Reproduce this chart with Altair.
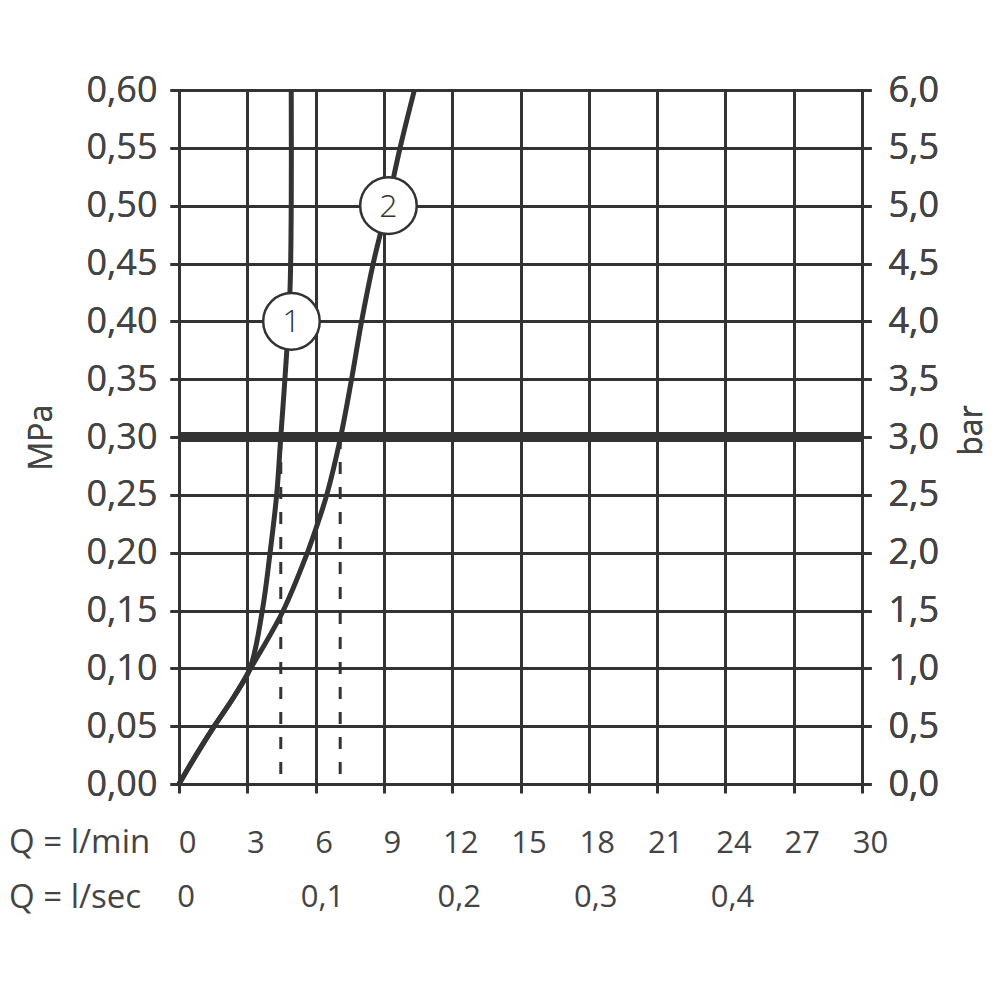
import altair as alt
import pandas as pd

# ---- data ----
q1 = [0, 0.75, 1.55, 2.4, 3.12, 3.66, 4.0, 4.29, 4.47, 4.72, 4.88, 4.93, 4.93]
p1 = [0, 0.025, 0.05, 0.075, 0.1, 0.15, 0.2, 0.25, 0.3, 0.37, 0.43, 0.5, 0.6]

q2 = [0, 0.75, 1.55, 2.4, 3.15, 4.58, 5.64, 6.0, 6.49, 7.10, 7.58, 8.02, 8.53, 9.15, 9.71, 10.34]
p2 = [0, 0.025, 0.05, 0.075, 0.1, 0.15, 0.2, 0.22, 0.25, 0.3, 0.35, 0.4, 0.45, 0.5, 0.55, 0.6]

marker_q = [4.94, 9.2]
marker_p = [0.40, 0.50]
marker_lbl = ["1", "2"]

dash_q = [4.47, 7.08]
dash_p = [0.3, 0.3]

limit_p = [0.3]

xticks = [0, 3, 6, 9, 12, 15, 18, 21, 24, 27, 30]
yticks = [0, 0.05, 0.1, 0.15, 0.2, 0.25, 0.3, 0.35, 0.4, 0.45, 0.5, 0.55, 0.6]
sec_q = [0, 6, 12, 18, 24]
sec_lbl = ["0", "0,1", "0,2", "0,3", "0,4"]
row_names = ["Q = l/min", "Q = l/sec"]

FONT = "Open Sans"
DARK = "#333333"
TXT = "#444444"

curves = pd.DataFrame(
    [{"q": q, "p": p, "c": "1", "i": i} for i, (q, p) in enumerate(zip(q1, p1))]
    + [{"q": q, "p": p, "c": "2", "i": i} for i, (q, p) in enumerate(zip(q2, p2))]
)
markers = pd.DataFrame({"q": marker_q, "p": marker_p, "lbl": marker_lbl})
dashes = pd.DataFrame({"q": dash_q, "p": dash_p})
limit = pd.DataFrame({"p": limit_p})
secs = pd.DataFrame({"q": sec_q, "lbl": sec_lbl})
rowlbl = pd.DataFrame({"lbl": row_names, "yy": [753, 808]})

xscale = alt.Scale(domain=[0, 30], nice=False, zero=False)
yscale = alt.Scale(domain=[0, 0.6], nice=False, zero=False)

x_axis = alt.Axis(
    values=xticks, grid=True, gridColor=DARK, gridWidth=3, gridOpacity=1,
    domain=False, ticks=True, tickSize=9, tickWidth=3, tickColor=DARK,
    labelFont=FONT, labelFontSize=31, labelColor=TXT, labelFontWeight=400,
    labelPadding=50, labelBaseline="middle", labelOffset=8, labelFlush=False,
    labelExpr="format(datum.value, 'd')", title=None,
)
y_left = alt.Axis(
    orient="left", values=yticks, grid=True, gridColor=DARK, gridWidth=3, gridOpacity=1,
    domain=False, ticks=True, tickSize=9, tickWidth=3, tickColor=DARK,
    labelFont=FONT, labelFontSize=36, labelColor=TXT, labelFontWeight=400,
    labelPadding=13, labelFlush=False,
    labelExpr="replace(format(datum.value, '.2f'), '.', ',')",
    title="MPa", titleFont=FONT, titleFontSize=32, titleFontWeight=400, titleColor=TXT,
    titleX=-128, titleY=347, titleAngle=270, titleBaseline="alphabetic", titleAlign="center",
)
y_right = alt.Axis(
    orient="right", values=yticks, grid=False,
    domain=False, ticks=True, tickSize=9, tickWidth=3, tickColor=DARK,
    labelFont=FONT, labelFontSize=36, labelColor=TXT, labelFontWeight=400,
    labelPadding=17, labelFlush=False,
    labelExpr="replace(format(datum.value * 10, '.1f'), '.', ',')",
    title="bar", titleFont=FONT, titleFontSize=32, titleFontWeight=400, titleColor=TXT,
    titleX=119, titleY=340, titleAngle=270, titleBaseline="alphabetic", titleAlign="center",
)

X = alt.X("q:Q", scale=xscale, axis=x_axis)

limit_rule = alt.Chart(limit).mark_rule(color=DARK, strokeWidth=10).encode(
    y=alt.Y("p:Q", scale=yscale, axis=y_left),
    x=alt.value(0), x2=alt.value(683),
)

dash_rules = alt.Chart(dashes).mark_rule(color=DARK, strokeWidth=3, strokeDash=[12, 13]).encode(
    x=X,
    y=alt.Y("p:Q", scale=yscale, axis=y_left),
    y2=alt.value(694),
)

lines = alt.Chart(curves).mark_line(color=DARK, strokeWidth=5, interpolate="catmull-rom").encode(
    x=X,
    y=alt.Y("p:Q", scale=yscale, axis=y_right),
    detail="c:N",
    order="i:Q",
)

circles = alt.Chart(markers).mark_point(
    shape="circle", filled=True, fill="white", stroke=DARK, strokeWidth=2.5, size=3200, opacity=1
).encode(
    x=X,
    y=alt.Y("p:Q", scale=yscale, axis=y_right),
)

circle_txt = alt.Chart(markers).mark_text(
    font=FONT, fontSize=32, fontWeight=300, color=DARK, baseline="middle", align="center", dy=1
).encode(
    x=X,
    y=alt.Y("p:Q", scale=yscale, axis=y_right),
    text="lbl:N",
)

sec_txt = alt.Chart(secs).mark_text(
    font=FONT, fontSize=31, fontWeight=400, color=TXT, baseline="middle", align="center", dx=7
).encode(
    x=X,
    y=alt.value(808),
    text="lbl:N",
)

row_txt = alt.Chart(rowlbl).mark_text(
    font=FONT, fontSize=33, fontWeight=400, color=TXT, baseline="middle", align="left"
).encode(
    x=alt.value(-170),
    y=alt.Y("yy:Q", scale=None),
    text="lbl:N",
)

chart = alt.layer(
    limit_rule, dash_rules, lines, circles, circle_txt, sec_txt, row_txt
).resolve_axis(y="independent").properties(
    width=683, height=694,
    autosize=alt.AutoSizeParams(type="none"),
    padding={"left": 171, "top": 82, "right": 129, "bottom": 200},
).configure_view(stroke=None).configure(background="white")

chart.save("out.html", embed_options={"renderer": "svg", "actions": False})
